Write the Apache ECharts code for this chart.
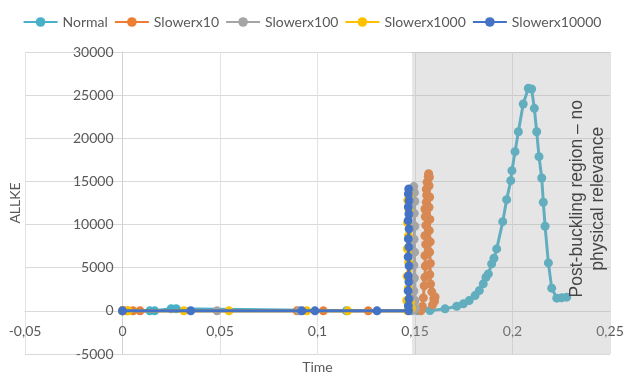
<!DOCTYPE html>
<html>
<head>
<meta charset="utf-8">
<script src="https://cdn.jsdelivr.net/npm/echarts@6/dist/echarts.min.js"></script>
<style>html,body{margin:0;padding:0;background:#fff}#c{width:624px;height:378px}</style>
</head>
<body>
<div id="c"></div>
<script>
// ---- data ----
var seriesNames = ['Normal', 'Slowerx10', 'Slowerx100', 'Slowerx1000', 'Slowerx10000'];
var seriesColors = ['#46B1C9', '#ED7D31', '#A5A5A5', '#FFC000', '#4472C4'];

var normalData = [
  [0, 0], [0.014, 0], [0.0165, 0], [0.025, 250], [0.0275, 250], [0.1148, 0],
  [0.1515, 0], [0.1577, 35], [0.1654, 230], [0.1714, 540], [0.1748, 810], [0.1778, 1190],
  [0.1808, 1770], [0.183, 2350], [0.185, 3130], [0.1864, 3900], [0.1876, 4280],
  [0.1893, 5440], [0.1905, 6100], [0.1919, 7180], [0.195, 10340], [0.197, 12890],
  [0.1991, 15090], [0.1997, 16250], [0.2013, 18450], [0.203, 20760], [0.2055, 23970],
  [0.2081, 25790], [0.2098, 25710], [0.2112, 23470], [0.2124, 20760], [0.2136, 17870],
  [0.215, 15400], [0.2158, 12590], [0.2167, 9810], [0.2184, 5560], [0.2201, 2630],
  [0.2227, 1470], [0.2252, 1510], [0.2278, 1590]
];

var slower10Data = [
  [0, 0], [0.0023, 0], [0.0054, 0], [0.009, 0], [0.0895, 0], [0.103, 0], [0.126, 0],
  [0.1530, 0], [0.1538, 500], [0.1543, 1500], [0.1547, 2900], [0.1551, 3900], [0.1553, 5200],
  [0.1551, 6400], [0.1555, 7700], [0.1551, 8700], [0.1556, 9900], [0.1553, 10900],
  [0.1551, 11800], [0.1558, 12600], [0.1560, 13400], [0.1558, 14100], [0.1562, 14900],
  [0.1568, 15600], [0.1570, 15900], [0.1574, 15500], [0.1572, 14500], [0.1575, 13200],
  [0.1572, 12000], [0.1576, 10600], [0.1573, 9300], [0.1578, 8000], [0.1575, 6800],
  [0.1579, 5500], [0.1576, 4200], [0.1580, 3100], [0.1586, 2200], [0.1603, 1600],
  [0.1600, 1100], [0.1590, 700], [0.1596, 1400]
];

var slower100Data = [
  [0, 0], [0.0485, 0], [0.0905, 0], [0.1485, 0], [0.1490, 900], [0.1494, 2300],
  [0.1497, 3800], [0.1494, 5300], [0.1498, 6800], [0.1495, 8300], [0.1499, 9800],
  [0.1496, 11300], [0.1499, 12700], [0.1497, 13700], [0.1494, 14400], [0.1500, 1200], [0.1502, 300]
];

var slower1000Data = [
  [0, 0], [0.003, 0], [0.0315, 0], [0.0546, 0], [0.0945, 0], [0.1155, 0],
  [0.1462, 0], [0.1458, 1200], [0.1466, 2600], [0.1460, 4000], [0.1468, 5600],
  [0.1461, 7200], [0.1467, 8700], [0.1462, 10200], [0.1469, 11700], [0.1463, 12800],
  [0.1470, 13500], [0.1478, 1000], [0.1483, 300]
];

var slower10000Data = [
  [0, 0], [0.035, 0], [0.092, 0], [0.0987, 0], [0.1305, 0],
  [0.1468, 0], [0.1466, 580], [0.1470, 1390], [0.1465, 2320], [0.1469, 3360],
  [0.1466, 4050], [0.1470, 5210], [0.1465, 6250], [0.1469, 7410], [0.1466, 8340],
  [0.1470, 9500], [0.1465, 10460], [0.1469, 11230], [0.1466, 12040], [0.1470, 12770],
  [0.1466, 13550], [0.1468, 14130]
];

// shaded post-buckling region (time range) and its note
var regionStart = 0.1485, regionEnd = 0.25, regionTop = 30000;
var noteText = 'Post-buckling region \u2013 no\nphysical relevance';
var noteAnchor = [0.2387, 13000];

var xTicks = { min: -0.05, max: 0.25, interval: 0.05 };
var yTicks = { min: -5000, max: 30000, interval: 5000 };

// ---- chart ----
var allData = [normalData, slower10Data, slower100Data, slower1000Data, slower10000Data];
var chart = echarts.init(document.getElementById('c'));
var labelFont = 'Lato';
var series = allData.map(function (d, i) {
  return {
    name: seriesNames[i], type: 'line', data: d, z: 2 + i,
    symbol: 'circle', symbolSize: 9, showAllSymbol: true,
    color: seriesColors[i],
    lineStyle: { width: 3, color: seriesColors[i] },
    itemStyle: { color: seriesColors[i] },
    animation: false
  };
});
series.push({
  name: 'region', type: 'line', z: 20, silent: true, animation: false,
  data: [[regionStart, regionTop], [regionEnd, regionTop]],
  showSymbol: false, symbol: 'none',
  lineStyle: { width: 0 },
  areaStyle: { origin: 'start', color: 'rgba(165,165,165,0.42)' },
  markPoint: {
    silent: true, symbol: 'circle', symbolSize: 0, animation: false,
    data: [{ coord: noteAnchor }],
    label: {
      show: true, position: 'inside', rotate: 90, formatter: noteText,
      fontFamily: 'Liberation Sans', fontSize: 17.5, color: '#1a1a1a',
      align: 'center', verticalAlign: 'middle', lineHeight: 21
    }
  }
});

var gridBox = { left: 25, right: 14, top: 52, bottom: 24 };
chart.setOption({
  animation: false,
  legend: {
    data: seriesNames, top: 10, left: 'center',
    itemWidth: 34, itemHeight: 12, itemGap: 6,
    textStyle: { color: '#595959', fontSize: 14, fontFamily: labelFont }
  },
  grid: { left: gridBox.left, right: gridBox.right, top: gridBox.top, bottom: gridBox.bottom,
          containLabel: false, outerBoundsMode: 'none' },
  xAxis: {
    type: 'value', min: xTicks.min, max: xTicks.max, interval: xTicks.interval,
    position: 'bottom',
    name: 'Time', nameLocation: 'middle', nameGap: 50,
    nameTextStyle: { color: '#595959', fontSize: 14, fontFamily: labelFont },
    axisLine: { onZero: false, lineStyle: { color: '#d9d9d9', width: 1 } },
    axisTick: { show: false },
    axisLabel: {
      color: '#595959', fontSize: 14, fontFamily: labelFont, margin: 14,
      formatter: function (v) { return String(Math.round(v * 100) / 100).replace('.', ','); }
    },
    splitLine: { show: true, lineStyle: { color: '#e3e3e3', width: 1 } }
  },
  yAxis: {
    type: 'value', min: yTicks.min, max: yTicks.max, interval: yTicks.interval,
    position: 'left',
    name: 'ALLKE', nameLocation: 'middle', nameGap: 100,
    nameTextStyle: { color: '#595959', fontSize: 14, fontFamily: labelFont },
    axisLine: { show: true, onZero: false, lineStyle: { color: '#d0d0d0', width: 1 } },
    axisTick: { show: false },
    axisLabel: {
      color: '#595959', fontSize: 14, fontFamily: labelFont, margin: 9,
      formatter: function (v) { return String(Math.round(v)); }
    },
    splitLine: { show: true, lineStyle: { color: '#d9d9d9', width: 1 } }
  },
  series: series
});

// place each axis where the other axis is zero (computed through the scales)
var zeroX = chart.convertToPixel({ xAxisIndex: 0 }, 0);
var zeroY = chart.convertToPixel({ yAxisIndex: 0 }, 0);
var gridBottomPx = 378 - gridBox.bottom;
chart.setOption({
  xAxis: { offset: -(gridBottomPx - zeroY) },
  yAxis: { offset: -(zeroX - gridBox.left) }
});
</script>
</body>
</html>
